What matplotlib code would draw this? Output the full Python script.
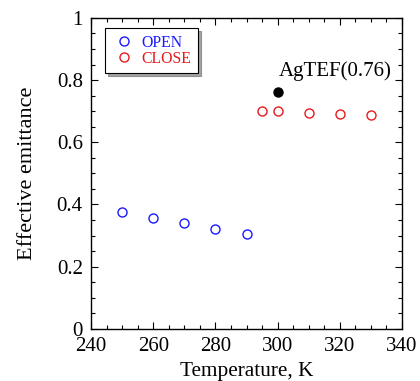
import matplotlib
matplotlib.use("Agg")
import matplotlib.pyplot as plt
from matplotlib.ticker import MultipleLocator

plt.rcParams['font.family'] = ['Liberation Serif', 'DejaVu Serif']

# --- data ---
temp_open = [250, 260, 270, 280, 290]
emit_open = [0.375, 0.357, 0.339, 0.322, 0.306]

temp_close = [295, 300, 310, 320, 330]
emit_close = [0.699, 0.699, 0.695, 0.691, 0.689]

temp_agtef = [300]
emit_agtef = [0.761]
agtef_label = "AgTEF(0.76)"

fig = plt.figure(figsize=(4.2, 3.81), dpi=100)
ax = fig.add_axes([0.217, 0.137, 0.740, 0.816])

ax.plot(temp_open, emit_open, 'o', ls='none', mfc='none', mec='#1a1aff',
        ms=6.5, mew=1.0, label='OPEN')
ax.plot(temp_close, emit_close, 'o', ls='none', mfc='none', mec='#e8191e',
        ms=6.5, mew=1.0, label='CLOSE')
ax.plot(temp_agtef, emit_agtef, 'o', ls='none', color='black', ms=6.5)
ax.text(temp_agtef[0] + 0.5, 0.814, agtef_label, fontsize=15, va='baseline')

ax.set_xlim(240, 340)
ax.set_ylim(0, 1)
ax.xaxis.set_major_locator(MultipleLocator(20))
ax.xaxis.set_minor_locator(MultipleLocator(5))
ax.yaxis.set_major_locator(MultipleLocator(0.2))
ax.yaxis.set_minor_locator(MultipleLocator(0.05))
ax.yaxis.set_major_formatter(plt.FuncFormatter(lambda v, p: f"{v:g}"))
ax.tick_params(which='both', direction='in', top=True, right=True, labelsize=15)
ax.tick_params(which='major', length=5, width=0.8)
ax.tick_params(which='minor', length=3, width=0.8)
ax.tick_params(axis='x', pad=6)
ax.tick_params(axis='y', pad=6)
for s in ax.spines.values():
    s.set_linewidth(1.0)

ax.set_xlabel('Temperature, K', fontsize=15.3, labelpad=4)
ax.set_ylabel('Effective emittance', fontsize=16, labelpad=14)

leg = ax.legend(loc='upper left', bbox_to_anchor=(0.044, 0.966), fontsize=11.3,
                frameon=True, fancybox=False, shadow=True, edgecolor='black',
                borderaxespad=0, handletextpad=0.25, borderpad=0.4,
                labelspacing=0.0, handlelength=1.7)
leg.get_frame().set_linewidth(0.8)
for t, c in zip(leg.get_texts(), ['#1a1aff', '#e8191e']):
    t.set_color(c)

fig.savefig('out.png', dpi=100)
